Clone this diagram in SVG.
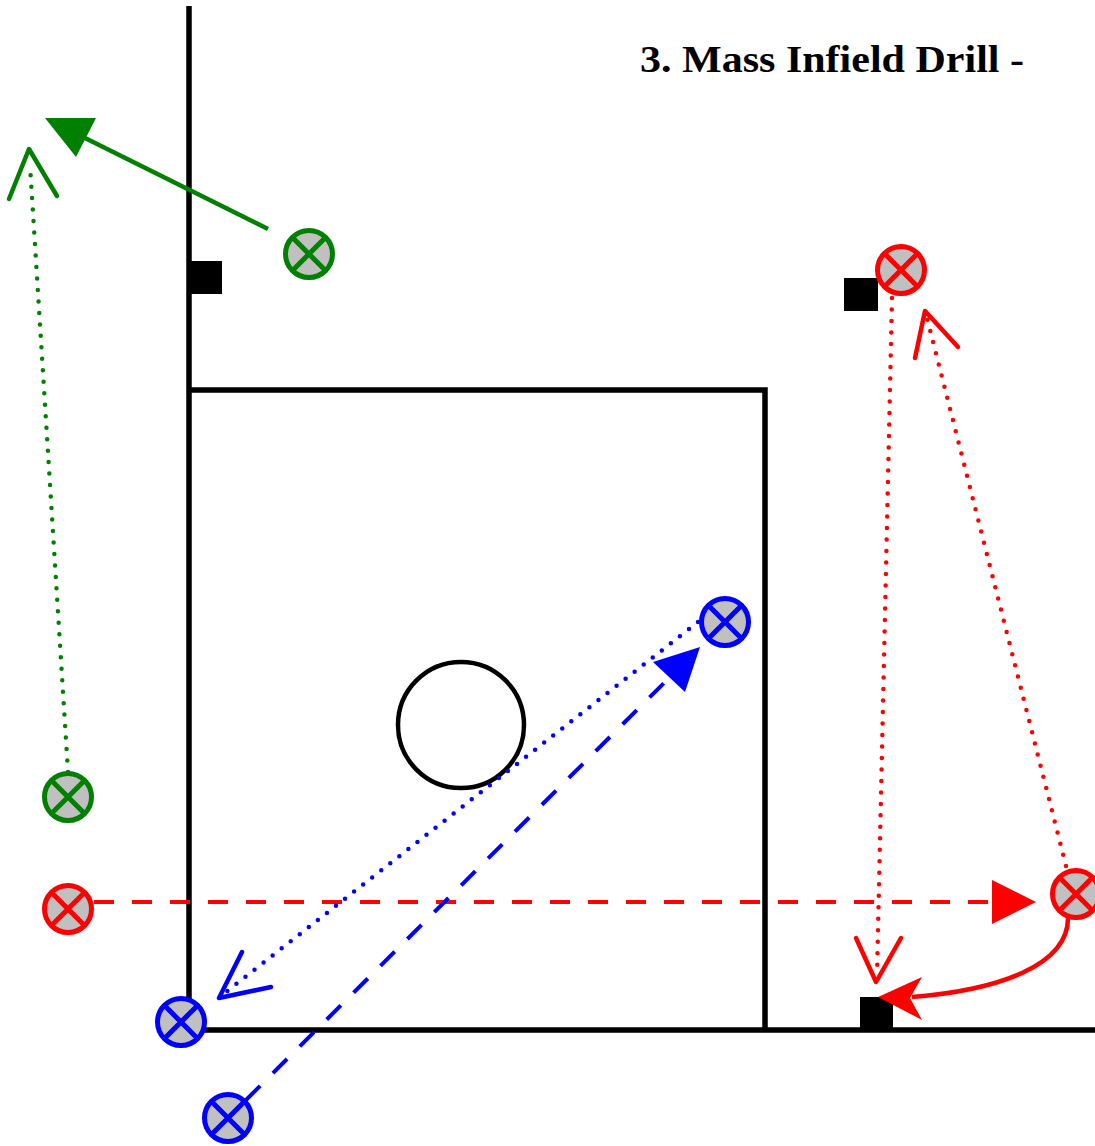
<svg xmlns="http://www.w3.org/2000/svg" width="1095" height="1146" viewBox="0 0 1095 1146">
<style>
.field{fill:none;stroke:#000;stroke-width:5.5}
.pl{fill:#c0c0c0;stroke-width:5}
.x{stroke-width:5;fill:none}
.g{stroke:#008000}
.r{stroke:#ff0000}
.b{stroke:#0000ff}
.dot{fill:none;stroke-width:4.5;stroke-linecap:round;stroke-dasharray:0 11.5}
.dash{fill:none;stroke-width:4;stroke-dasharray:20 18}
.solid{fill:none;stroke-width:4.5}
.open{fill:none;stroke-width:4.5;stroke-linecap:round;stroke-linejoin:round}
.base{fill:#000}
.title{font-family:"Liberation Serif",serif;font-weight:bold;font-size:37px;fill:#000}
</style>
<defs>
<g id="p">
<circle r="23.5" class="pl"/>
<path d="M-16,-16L16,16M16,-16L-16,16" class="x"/>
</g>
</defs>
<g id="field">
<path class="field" d="M189,6V1030H1095"/>
<path class="field" d="M189,390H765V1030"/>
<circle id="mound" cx="461" cy="725" r="63" fill="none" stroke="#000" stroke-width="4.5"/>
</g>
<g id="bases">
<rect id="base1" class="base" x="190" y="261" width="32" height="33"/>
<rect id="base2" class="base" x="844" y="278" width="34" height="33"/>
<rect id="base3" class="base" x="860" y="997" width="33" height="32"/>
</g>
<text id="title" class="title" x="640" y="72" textLength="384" lengthAdjust="spacingAndGlyphs">3. Mass Infield Drill -</text>
<g id="connectors">
<path class="solid g" d="M268,229L85,138"/>
<polygon fill="#008000" points="45,118 96,118 76,157"/>
<path class="dot g" d="M68,772L30,165"/>
<path class="open g" d="M9,199L29,149L57,196"/>
<path class="dot r" d="M892,298L877,976"/>
<path class="open r" d="M856,938L876,982L901,938"/>
<path class="dot r" d="M1066,866L927,318"/>
<path class="open r" d="M915,358L925,311L958,347"/>
<path class="dash r" d="M94,902H998"/>
<polygon fill="#ff0000" points="992,880 1036,902 992,924"/>
<path class="solid r" d="M1068,918C1068,965 1000,990 912,997"/>
<polygon fill="#ff0000" points="878,997 922,977 910,998 922,1020"/>
<path class="dot b" d="M698,622L226,992"/>
<path class="open b" d="M242,952L219,998L271,987"/>
<path class="dash b" d="M246,1100L674,673"/>
<polygon fill="#0000ff" points="700,647 653,662 685,692"/>
</g>
<g id="p_g1" class="g"><use href="#p" x="309" y="254"/></g>
<g id="p_g2" class="g"><use href="#p" x="68" y="797"/></g>
<g id="p_r1" class="r"><use href="#p" x="901" y="270"/></g>
<g id="p_r2" class="r"><use href="#p" x="68" y="909"/></g>
<g id="p_r3" class="r"><use href="#p" x="1076" y="894"/></g>
<g id="p_b1" class="b"><use href="#p" x="725" y="622"/></g>
<g id="p_b2" class="b"><use href="#p" x="181" y="1022"/></g>
<g id="p_b3" class="b"><use href="#p" x="228" y="1118"/></g>
</svg>
